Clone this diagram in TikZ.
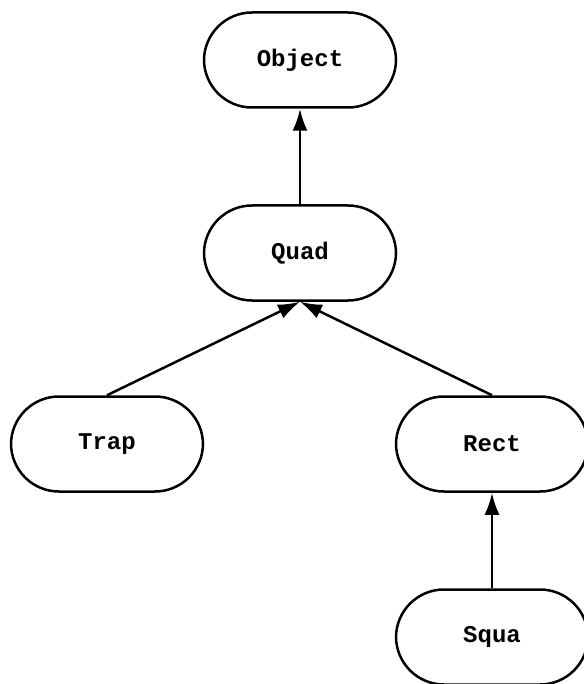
\documentclass[tikz,border=0pt]{standalone}
\usepackage{fontspec}
\setmonofont{Liberation Mono}
\usepackage{tikz}
\usetikzlibrary{arrows.meta,positioning}

\begin{document}
\begin{tikzpicture}[x=1pt, y=-1pt,
    every node/.style={font=\fontsize{24}{28}\selectfont\ttfamily\bfseries},
    cls/.style={draw, line width=2.5pt, rounded corners=48pt, minimum width=192pt, minimum height=95pt, fill=white},
    inh/.style={line width=2.5pt, -{Latex[length=22pt,width=15pt]}}]
  \useasboundingbox (0,0) rectangle (583,684);
  \foreach \name/\x/\y in {Object/300/60, Quad/300/253, Trap/107/444, Rect/492/444, Squa/492/637} {
    \node[cls] (\name) at (\x,\y) {\name};
  }
  \foreach \from/\to in {Quad/Object, Trap/Quad, Rect/Quad, Squa/Rect} {
    \draw[inh] (\from.north) -- (\to.south);
  }
\end{tikzpicture}
\end{document}
